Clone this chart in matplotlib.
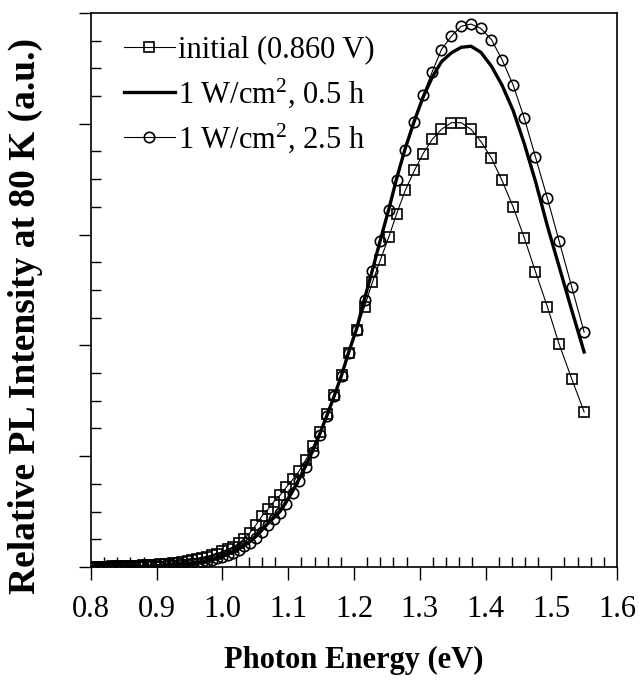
import matplotlib
matplotlib.use("Agg")
import matplotlib.pyplot as plt
from matplotlib.ticker import MultipleLocator, FormatStrFormatter

plt.rcParams['font.family'] = ['Liberation Serif', 'DejaVu Serif']
plt.rcParams['mathtext.default'] = 'regular'

# photon energy grid (eV), same for all three spectra
energy = [1.550, 1.531, 1.512, 1.494, 1.476, 1.459, 1.442, 1.425, 1.409, 1.393,
          1.378, 1.363, 1.348, 1.333, 1.319, 1.305, 1.292, 1.278, 1.265, 1.253,
          1.240, 1.228, 1.216, 1.204, 1.192, 1.181, 1.170, 1.159, 1.148, 1.138,
          1.127, 1.117, 1.107, 1.097, 1.088, 1.078, 1.069, 1.060, 1.051, 1.042,
          1.033, 1.025, 1.016, 1.008, 1.000, 0.992, 0.984, 0.976, 0.969, 0.961,
          0.954, 0.947, 0.939, 0.932, 0.925, 0.919, 0.912, 0.905, 0.899, 0.892,
          0.886, 0.879, 0.873, 0.867, 0.861, 0.855, 0.849, 0.844, 0.838, 0.832,
          0.827, 0.821, 0.816, 0.810, 0.805, 0.800]

# initial (0.860 V)
pl_initial = [1.40, 1.70, 2.01, 2.35, 2.665, 2.97, 3.25, 3.49, 3.69, 3.84,
              3.95, 4.01, 4.01, 3.95, 3.86, 3.73, 3.58, 3.40, 3.19, 2.98,
              2.77, 2.57, 2.35, 2.14, 1.93, 1.73, 1.55, 1.38, 1.22, 1.09,
              0.97, 0.87, 0.79, 0.72, 0.65, 0.59, 0.52, 0.46, 0.38, 0.31,
              0.255, 0.215, 0.18, 0.16, 0.14, 0.12, 0.105, 0.09, 0.08, 0.069,
              0.06, 0.05, 0.045, 0.04, 0.035, 0.03, 0.027, 0.024, 0.02, 0.018,
              0.016, 0.014, 0.012, 0.010, 0.009, 0.008, 0.007, 0.006, 0.005, 0.005,
              0.004, 0.004, 0.003, 0.003, 0.002, 0.002]

# 1 W/cm2, 0.5 h
pl_05h = [1.94, 2.32, 2.71, 3.08, 3.48, 3.82, 4.12, 4.35, 4.52, 4.645,
          4.70, 4.69, 4.64, 4.56, 4.42, 4.24, 4.03, 3.78, 3.51, 3.23,
          2.95, 2.68, 2.42, 2.15, 1.94, 1.73, 1.545, 1.37, 1.20, 1.06,
          0.92, 0.80, 0.69, 0.59, 0.51, 0.45, 0.395, 0.335, 0.28, 0.23,
          0.195, 0.163, 0.137, 0.116, 0.097, 0.082, 0.07, 0.059, 0.05, 0.042,
          0.036, 0.03, 0.026, 0.022, 0.019, 0.016, 0.014, 0.012, 0.01, 0.008,
          0.007, 0.006, 0.005, 0.004, 0.004, 0.003, 0.003, 0.002, 0.002, 0.002,
          0.001, 0.001, 0.001, 0.001, 0.001, 0.001]

# 1 W/cm2, 2.5 h
pl_25h = [2.12, 2.53, 2.94, 3.33, 3.70, 4.05, 4.35, 4.58, 4.76, 4.86,
          4.90, 4.88, 4.79, 4.67, 4.47, 4.26, 4.02, 3.76, 3.49, 3.22,
          2.94, 2.67, 2.41, 2.14, 1.93, 1.72, 1.54, 1.36, 1.19, 1.04,
          0.90, 0.78, 0.67, 0.57, 0.49, 0.43, 0.38, 0.32, 0.265, 0.22,
          0.185, 0.155, 0.13, 0.11, 0.092, 0.078, 0.066, 0.056, 0.047, 0.04,
          0.034, 0.029, 0.025, 0.021, 0.018, 0.015, 0.013, 0.011, 0.009, 0.008,
          0.007, 0.006, 0.005, 0.004, 0.004, 0.003, 0.003, 0.002, 0.002, 0.002,
          0.001, 0.001, 0.001, 0.001, 0.001, 0.001]

labels = ['initial (0.860 V)', '1 W/cm$^2$, 0.5 h', '1 W/cm$^2$, 2.5 h']

fig = plt.figure(figsize=(6.39, 6.87), dpi=100)
ax = fig.add_axes([0.1424, 0.1747, 0.8232, 0.8064])

ax.plot(energy, pl_initial, color='black', lw=0.8, marker='s', ms=7.5,
        mfc='none', mec='black', mew=1.2, label=labels[0])
ax.plot(energy, pl_05h, color='black', lw=2.4, label=labels[1])
ax.plot(energy, pl_25h, color='black', lw=0.8, marker='o', ms=7.5,
        mfc='none', mec='black', mew=1.2, label=labels[2])

ax.set_xlim(0.8, 1.6)
ax.set_ylim(0, 5)
ax.xaxis.set_major_locator(MultipleLocator(0.1))
ax.xaxis.set_minor_locator(MultipleLocator(0.02))
ax.xaxis.set_major_formatter(FormatStrFormatter('%.1f'))
ax.yaxis.set_major_locator(MultipleLocator(1))
ax.yaxis.set_minor_locator(MultipleLocator(0.25))

ax.tick_params(axis='x', which='major', direction='out', length=9, width=1,
               labelsize=22, pad=11)
ax.tick_params(axis='x', which='minor', direction='in', length=7, width=1)
ax.tick_params(axis='y', which='major', direction='out', length=9, width=1,
               labelleft=False)
ax.tick_params(axis='y', which='minor', direction='in', length=7, width=1)
for sp in ax.spines.values():
    sp.set_linewidth(1.2)

ax.set_xlabel('Photon Energy (eV)', fontsize=22, fontweight='bold', labelpad=16)
ax.set_ylabel('Relative PL Intensity at 80 K (a.u.)', fontsize=27,
              fontweight='bold')
ax.yaxis.set_label_coords(-0.092, 0.453)

ax.legend(loc='upper left', bbox_to_anchor=(0.063, 0.959), frameon=False,
          fontsize=22, handlelength=1.65, handletextpad=0.1, borderpad=0,
          borderaxespad=0, labelspacing=0.38)

fig.savefig('out.png', dpi=100)
